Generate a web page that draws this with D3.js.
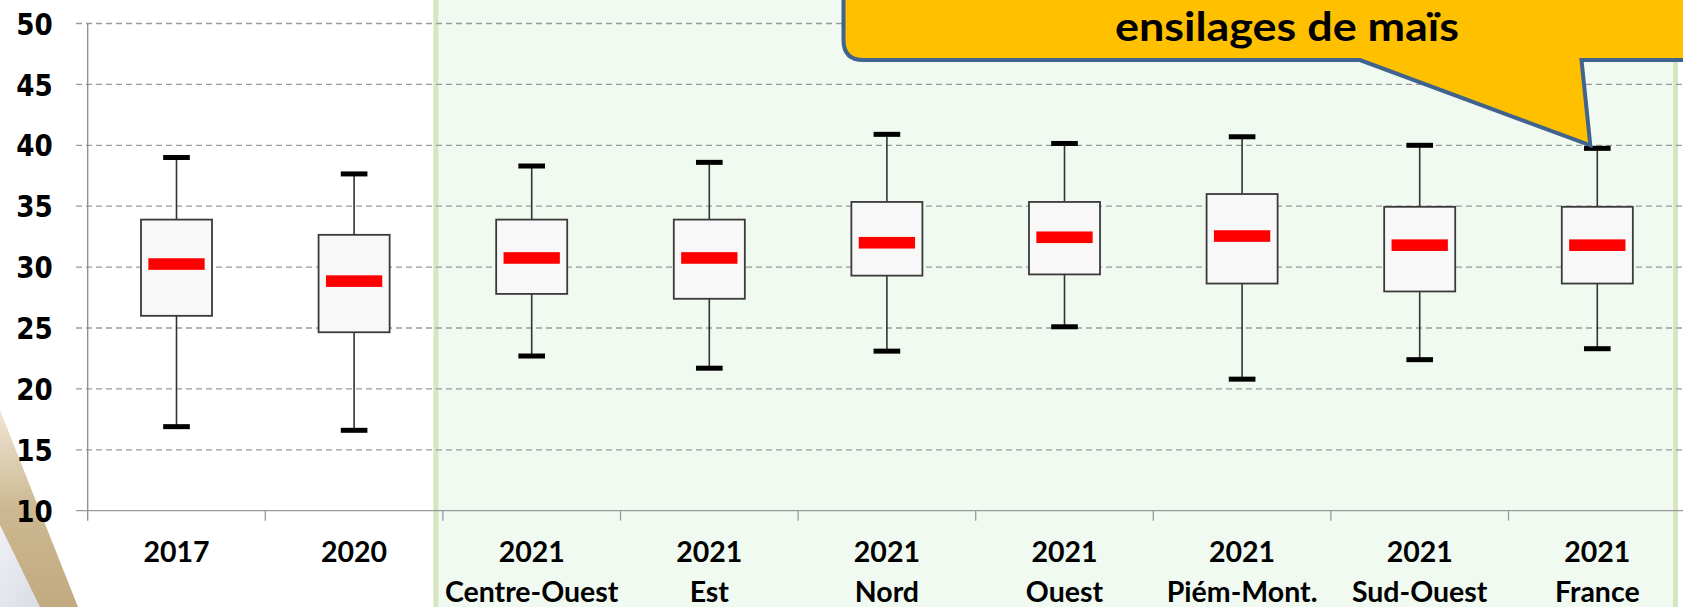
<!DOCTYPE html>
<html><head><meta charset="utf-8">
<script src="https://cdn.jsdelivr.net/npm/d3@7"></script>
<style>
html,body{margin:0;padding:0;background:#fff;overflow:hidden}
svg{display:block}
</style></head>
<body>
<script>
// ---- data ----
const years   = ["2017","2020","2021","2021","2021","2021","2021","2021","2021"];
const regions = ["","","Centre-Ouest","Est","Nord","Ouest","Piém-Mont.","Sud-Ouest","France"];
const whiskerLow  = [16.9, 16.6, 22.7, 21.7, 23.1, 25.1, 20.8, 22.4, 23.3];
const q1          = [26.0, 24.65, 27.8, 27.4, 29.3, 29.4, 28.65, 28.0, 28.65];
const medians     = [30.25, 28.85, 30.75, 30.75, 32.0, 32.45, 32.55, 31.8, 31.8];
const q3          = [33.9, 32.65, 33.9, 33.9, 35.35, 35.35, 36.0, 34.95, 34.95];
const whiskerHigh = [39.0, 37.65, 38.3, 38.6, 40.9, 40.15, 40.7, 40.0, 39.75];
const yTicks = [10,15,20,25,30,35,40,45,50];
const calloutText = "ensilages de maïs";

const W = 1683, H = 607;
const cats = years.map((y,i)=>i);
const svg = d3.select("body").append("svg").attr("width",W).attr("height",H);

const x = d3.scaleBand().domain(cats).range([87.7, 87.7 + 9*177.6]).padding(0);
const y = d3.scaleLinear().domain([10,50]).range([510.7, 23.5]);
const bw = x.bandwidth();

// decorative background (bottom-left slide corner)
const defs = svg.append("defs");
const tg = defs.append("linearGradient").attr("id","tan").attr("x1",0).attr("y1",0).attr("x2",0).attr("y2",1);
tg.append("stop").attr("offset","0").attr("stop-color","#efe6d6");
tg.append("stop").attr("offset","0.5").attr("stop-color","#cdb891");
tg.append("stop").attr("offset","1").attr("stop-color","#c2aa80");
const gg = defs.append("linearGradient").attr("id","gry").attr("x1",0).attr("y1",0).attr("x2",1).attr("y2",1);
gg.append("stop").attr("offset","0").attr("stop-color","#eef0f4");
gg.append("stop").attr("offset","1").attr("stop-color","#d9dde4");
svg.append("path").attr("d","M0,410 L78,607 L0,607 Z").attr("fill","url(#tan)");
svg.append("path").attr("d","M0,525 L40,607 L0,607 Z").attr("fill","url(#gry)");

// green panel for 2021
const gx0 = x(2) - 9.5;
svg.append("rect").attr("x",gx0).attr("y",0).attr("width",1673-gx0).attr("height",H).attr("fill","#f1faf1");
svg.append("rect").attr("x",gx0).attr("y",0).attr("width",5).attr("height",H).attr("fill","#d8e5c0");
svg.append("rect").attr("x",1673).attr("y",0).attr("width",5).attr("height",H).attr("fill","#d8e5c0");

// gridlines
svg.append("g").selectAll("line").data(yTicks.filter(t=>t>10)).join("line")
  .attr("x1",76).attr("x2",W).attr("y1",d=>y(d)).attr("y2",d=>y(d))
  .attr("stroke","#9a9a9a").attr("stroke-width",1.3).attr("stroke-dasharray","6,4");

// y axis
const yAxis = d3.axisLeft(y).tickValues(yTicks).tickSize(0).tickPadding(35).tickFormat(d3.format("d"));
const gy = svg.append("g").attr("transform",`translate(${x(0)},0)`).call(yAxis);
gy.select(".domain").remove();
gy.selectAll("text").attr("font-family","'DejaVu Sans', Verdana, sans-serif").attr("font-weight","bold")
  .attr("font-size",29.5).attr("fill","#000").attr("dy","0.36em")
  .attr("textLength",36.5).attr("lengthAdjust","spacingAndGlyphs");
svg.append("line").attr("x1",x(0)).attr("x2",x(0)).attr("y1",y(50)).attr("y2",y(10)+10)
  .attr("stroke","#8a8a8a").attr("stroke-width",1.3);

// x axis
const xAxis = d3.axisBottom(x).tickSize(0).tickFormat("");
const gxa = svg.append("g").attr("transform",`translate(0,${y(10)})`).call(xAxis);
gxa.select(".domain").remove();
svg.append("line").attr("x1",76).attr("x2",W).attr("y1",y(10)).attr("y2",y(10))
  .attr("stroke","#9a9a9a").attr("stroke-width",1.3);
svg.append("g").selectAll("line").data(cats.slice(1)).join("line")
  .attr("x1",d=>x(d)).attr("x2",d=>x(d)).attr("y1",y(10)).attr("y2",y(10)+10)
  .attr("stroke","#9a9a9a").attr("stroke-width",1.3);

const lab = svg.append("g").attr("font-family","Lato, 'Open Sans', sans-serif").attr("font-weight","bold")
  .attr("font-size",28.5).attr("fill","#000").attr("text-anchor","middle");
const lt = lab.selectAll("text").data(cats).join("text").attr("x",d=>x(d)+bw/2);
lt.append("tspan").attr("x",d=>x(d)+bw/2).attr("y",562).text(d=>years[d]);
lt.append("tspan").attr("x",d=>x(d)+bw/2).attr("y",601.5).text(d=>regions[d]);

// boxes
const cx = i => x(i) + bw/2;
const boxW = bw*0.4, capW = bw*0.15, medW = bw*0.317;
const g = svg.append("g");
g.selectAll("line.wh").data(cats).join("line").attr("class","wh")
  .attr("x1",cx).attr("x2",cx).attr("y1",i=>y(whiskerHigh[i])).attr("y2",i=>y(whiskerLow[i]))
  .attr("stroke","#333").attr("stroke-width",1.6);
g.selectAll("rect.box").data(cats).join("rect").attr("class","box")
  .attr("x",i=>cx(i)-boxW/2).attr("width",boxW)
  .attr("y",i=>y(q3[i])).attr("height",i=>y(q1[i])-y(q3[i]))
  .attr("fill","#f8f8f8").attr("stroke","#3a3a3a").attr("stroke-width",1.8);
g.selectAll("rect.capH").data(cats).join("rect").attr("class","capH")
  .attr("x",i=>cx(i)-capW/2).attr("width",capW).attr("y",i=>y(whiskerHigh[i])-2.5).attr("height",5).attr("fill","#000");
g.selectAll("rect.capL").data(cats).join("rect").attr("class","capL")
  .attr("x",i=>cx(i)-capW/2).attr("width",capW).attr("y",i=>y(whiskerLow[i])-2.5).attr("height",5).attr("fill","#000");
g.selectAll("rect.med").data(cats).join("rect").attr("class","med")
  .attr("x",i=>cx(i)-medW/2).attr("width",medW).attr("y",i=>y(medians[i])-5.8).attr("height",11.6).attr("fill","#ff0000");

// callout pointing at France top whisker
const tipX = cx(8) - 7, tipY = y(whiskerHigh[8]) - 3;
const cb = 60, cl = 843.5, r = 20;
const cp = `M${cl},-20 L${cl},${cb-r} Q${cl},${cb} ${cl+r},${cb} L1360,${cb} L${tipX},${tipY} L1581.5,${cb} L${W+20},${cb} L${W+20},-20 Z`;
svg.append("path").attr("d",cp).attr("fill","#ffc000").attr("stroke","#41648f").attr("stroke-width",4).attr("stroke-linejoin","miter");
svg.append("text").attr("x",1287).attr("y",41).attr("text-anchor","middle")
  .attr("font-family","Lato, 'Open Sans', sans-serif").attr("font-weight","bold").attr("font-size",41)
  .attr("textLength",344).attr("lengthAdjust","spacingAndGlyphs").attr("fill","#000").text(calloutText);
</script>
</body></html>
